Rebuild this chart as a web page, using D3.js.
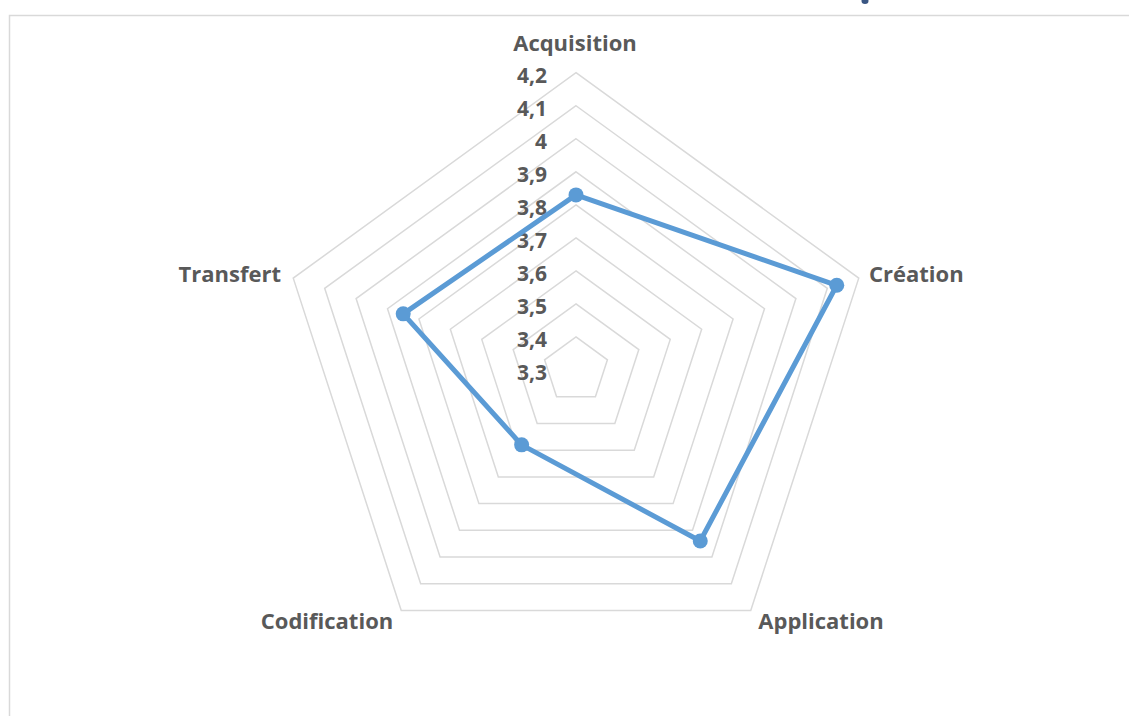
<!DOCTYPE html>
<html>
<head>
<meta charset="utf-8">
<script src="https://cdn.jsdelivr.net/npm/d3@7"></script>
<style>
  html, body { margin: 0; padding: 0; background: #ffffff; }
  svg { display: block; }
</style>
</head>
<body>
<svg id="chart" width="1129" height="716"></svg>
<script>
// Knowledge-management process scores
const categories = ["Acquisition", "Création", "Application", "Codification", "Transfert"];
const values = [3.83, 4.13, 3.94, 3.58, 3.85];
const tickValues = [3.3, 3.4, 3.5, 3.6, 3.7, 3.8, 3.9, 4.0, 4.1, 4.2];
const tickLabels = ["3,3", "3,4", "3,5", "3,6", "3,7", "3,8", "3,9", "4", "4,1", "4,2"];

const svg = d3.select("#chart");
const width = 1129, height = 716;
const cx = 576, cy = 370, R = 297.3;
const font = "'Open Sans', 'Liberation Sans', sans-serif";
const textColor = "#595959";

// chart-area frame
svg.append("path")
  .attr("d", `M9.5,${height} V15.5 H${width}`)
  .attr("fill", "none")
  .attr("stroke", "#d9d9d9")
  .attr("stroke-width", 1.5);

// tail of the heading mark peeking in above the frame
svg.append("ellipse")
  .attr("cx", 865).attr("cy", 1)
  .attr("rx", 3.5).attr("ry", 3)
  .attr("fill", "#3a5683");

const r = d3.scaleLinear().domain([3.3, 4.2]).range([0, R]);
const angle = d3.scalePoint().domain(categories).range([0, 2 * Math.PI * (categories.length - 1) / categories.length]);

const pt = (cat, v) => {
  const a = angle(cat);
  return [cx + r(v) * Math.sin(a), cy - r(v) * Math.cos(a)];
};

// concentric pentagon grid
const g = svg.append("g");
tickValues.filter(t => t > 3.3 + 1e-9).forEach(t => {
  g.append("polygon")
    .attr("points", categories.map(c => pt(c, t).join(",")).join(" "))
    .attr("fill", "none")
    .attr("stroke", "#d9d9d9")
    .attr("stroke-width", 1.5);
});

// radial tick labels along the top axis
svg.append("g").selectAll("text")
  .data(tickValues)
  .join("text")
  .attr("x", cx - 29)
  .attr("y", (d) => cy - r(d) + 10)
  .attr("text-anchor", "end")
  .attr("font-family", font)
  .attr("font-weight", "bold")
  .attr("font-size", 21)
  .attr("fill", textColor)
  .text((d, i) => tickLabels[i]);

// category labels
const labelPos = {
  "Acquisition": { x: 575, y: 51, anchor: "middle" },
  "Création": { x: 869, y: 282, anchor: "start" },
  "Application": { x: 821, y: 629, anchor: "middle" },
  "Codification": { x: 327, y: 629, anchor: "middle" },
  "Transfert": { x: 281, y: 282, anchor: "end" }
};
svg.append("g").selectAll("text")
  .data(categories)
  .join("text")
  .attr("x", d => labelPos[d].x)
  .attr("y", d => labelPos[d].y)
  .attr("text-anchor", d => labelPos[d].anchor)
  .attr("font-family", font)
  .attr("font-weight", "bold")
  .attr("font-size", 22)
  .attr("fill", textColor)
  .text(d => d);

// data series
const seriesColor = "#5b9bd5";
const pts = categories.map((c, i) => pt(c, values[i]));
svg.append("path")
  .attr("d", d3.line().curve(d3.curveLinearClosed)(pts))
  .attr("fill", "none")
  .attr("stroke", seriesColor)
  .attr("stroke-width", 5)
  .attr("stroke-linejoin", "round");

svg.append("g").selectAll("circle")
  .data(pts)
  .join("circle")
  .attr("cx", d => d[0])
  .attr("cy", d => d[1])
  .attr("r", 7.5)
  .attr("fill", seriesColor);
</script>
</body>
</html>
